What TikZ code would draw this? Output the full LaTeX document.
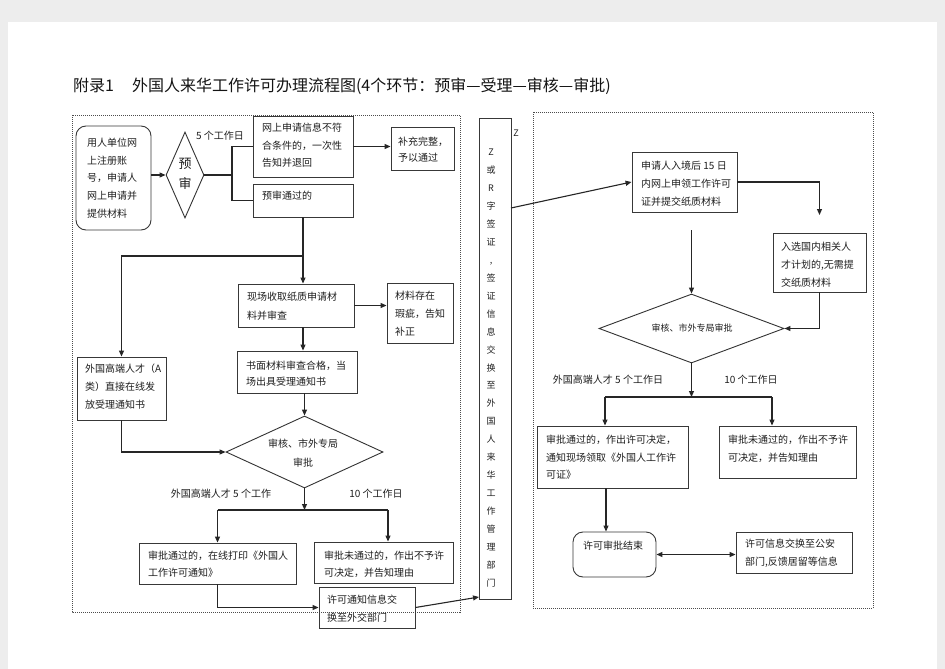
\documentclass[tikz,border=0pt]{standalone}
\usepackage{fontspec}
\setmainfont{Noto Sans CJK SC}
\usetikzlibrary{shapes.geometric,arrows.meta,fit}
\tikzset{
  boxst/.style={draw=black!78, line width=0.9pt, inner sep=0pt},
  rbox/.style={boxst, rounded corners=10pt},
  dia/.style={draw=black!80, line width=0.9pt, diamond, inner sep=0pt},
  txt/.style={font=\fontsize{10}{17.6}\selectfont, align=left, inner sep=0pt, text=black!88},
  lbl/.style={font=\fontsize{10}{12}\selectfont, inner sep=0pt, text=black!88},
  ln/.style={line width=1.1pt, draw=black!85},
  arr/.style={ln, -{Triangle[length=6pt,width=5pt]}},
  darr/.style={ln, {Triangle[length=6pt,width=5pt]}-{Triangle[length=6pt,width=5pt]}},
  frame/.style={draw=black!70, line width=0.7pt, dash pattern=on 1pt off 1pt},
}
\newcommand\btxt[5][17.6]{\node[txt, font=\fontsize{10}{#1}\selectfont, anchor=north west] (#2) at (#3,#4-5) {#5};}
\begin{document}
\begin{tikzpicture}[x=1pt,y=-1pt]
\fill[black!7] (0,0) rectangle (945,669);
\fill[white] (8,22) rectangle (937,669);
\useasboundingbox (0,0) rectangle (945,669);

% title
\node[inner sep=0pt, anchor=west, font=\fontsize{16}{18}\selectfont, text=black!92] (title) at (73,86) {附录1\hspace{18pt}外国人来华工作许可办理流程图(4个环节：预审—受理—审核—审批)};

% dashed frames
\draw[frame] (72,115) rectangle (460,612);
\draw[frame] (533,112) rectangle (873,608);

% ---------- left part ----------
\node[rbox, fit={(76,126)(151,230)}] (A) {};
\btxt{At}{87}{143}{用人单位网\\上注册账\\号，申请人\\网上申请并\\提供材料}

\node[dia, minimum width=38pt, minimum height=86pt] (d1) at (185,175) {};
\node[txt, font=\fontsize{13}{20}\selectfont, align=center] (d1t) at (185,173.5) {预\\审};
\node[lbl] (l5a) at (220,136) {5 个工作日};

\node[boxst, fit={(253,116)(353,177)}] (B) {};
\btxt[17.5]{Bt}{262}{128}{网上申请信息不符\\合条件的，一次性\\告知并退回}
\node[boxst, fit={(391,127)(454,170)}] (D) {};
\btxt[16]{Dt}{398}{142}{补充完整，\\予以通过}
\node[boxst, fit={(253,184)(353,217)}] (C) {};
\btxt{Ct}{262}{196}{预审通过的}

\node[boxst, fit={(238,284)(354,327)}] (E) {};
\btxt[19]{Et}{247}{297}{现场收取纸质申请材\\料并审查}
\node[boxst, fit={(387,283)(453,343)}] (G) {};
\btxt[18]{Gt}{395}{296}{材料存在\\瑕疵，告知\\补正}
\node[boxst, fit={(237,351)(357,393)}] (H) {};
\btxt[16]{Ht}{246}{366}{书面材料审查合格，当\\场出具受理通知书}
\node[boxst, fit={(77,357)(166,420)}] (F) {};
\btxt[18]{Ft}{85}{369}{外国高端人才（A\\类）直接在线发\\放受理通知书}

\node[dia, minimum width=157pt, minimum height=72pt] (d2) at (304.5,452) {};
\node[txt, font=\fontsize{10}{19}\selectfont, align=center] (d2t) at (303,453) {审核、市外专局\\审批};
\node[lbl] (l5b) at (221,494) {外国高端人才 5 个工作};
\node[lbl] (l10a) at (376,494) {10 个工作日};

\node[boxst, fit={(139,543)(296,584)}] (I) {};
\btxt[17]{It}{148}{556}{审批通过的，在线打印《外国人\\工作许可通知》}
\node[boxst, fit={(314,542)(453,583)}] (J) {};
\btxt[17]{Jt}{324}{556}{审批未通过的，作出不予许\\可决定，并告知理由}
\node[boxst, fit={(319,587)(415,628)}] (K) {};
\btxt[18]{Kt}{327}{600}{许可通知信息交\\换至外交部门}

% ---------- middle ----------
\node[boxst, fit={(479,118)(511,599)}] (Z) {};
\node[txt, font=\fontsize{9}{17.96}\selectfont, align=center, anchor=north] (Zt) at (491,148.7) {Z\\或\\R\\字\\签\\证\\,\\签\\证\\信\\息\\交\\换\\至\\外\\国\\人\\来\\华\\工\\作\\管\\理\\部\\门};
\node[lbl, font=\fontsize{9}{10}\selectfont] (Zl) at (516,133) {Z};

% ---------- right part ----------
\node[boxst, fit={(632,152)(737,212)}] (L) {};
\btxt[18]{Lt}{641}{166}{申请人入境后 15 日\\内网上申领工作许可\\证并提交纸质材料}
\node[boxst, fit={(773,233)(866,292)}] (M) {};
\btxt[18]{Mt}{781}{247}{入选国内相关人\\才计划的,无需提\\交纸质材料}

\node[dia, minimum width=185pt, minimum height=69pt] (d3) at (691.5,328.5) {};
\node[txt, font=\fontsize{9}{11}\selectfont] (d3t) at (692,328.5) {审核、市外专局审批};
\node[lbl] (l5c) at (608,380) {外国高端人才 5 个工作日};
\node[lbl] (l10b) at (751,380) {10 个工作日};

\node[boxst, fit={(537,426)(688,488)}] (N) {};
\btxt[17.5]{Nt}{546}{440}{审批通过的，作出许可决定，\\通知现场领取《外国人工作许\\可证》}
\node[boxst, fit={(719,426)(856,478)}] (O) {};
\btxt[18]{Ot}{728}{440}{审批未通过的，作出不予许\\可决定，并告知理由}
\node[rbox, fit={(573,532)(656,577)}] (P) {};
\btxt{Pt}{583}{546}{许可审批结束}
\node[boxst, fit={(736,532)(852,573)}] (Q) {};
\btxt[18]{Qt}{745}{544}{许可信息交换至公安\\部门,反馈居留等信息}

% ---------- connectors ----------
\draw[arr] (A.east |- d1.west) -- (d1.west);
\coordinate (j1) at (232,175);
\draw[ln] (d1.east) -- (j1);
\draw[ln] (j1) |- (B.west);
\draw[ln] (j1) |- (C.west);
\draw[arr] (B.east) -- (B.east -| D.west);
\coordinate (b1) at (303,256);
\draw[arr] (C.south) -- (C.south |- E.north);
\draw[arr] (b1) -| (F.north);
\draw[arr] (E.east) -- (E.east -| G.west);
\draw[arr] (C.south |- E.south) -- (C.south |- H.north);
\draw[arr] (d2.north |- H.south) -- (d2.north);
\draw[arr] (F.south) |- (d2.west);
\coordinate (s2) at (304.5,510);
\coordinate (s2l) at (217.5,510);
\coordinate (s2r) at (388,510);
\draw[arr] (d2.south) -- (s2);
\draw[ln] (s2l) -- (s2r);
\draw[arr] (s2l) -- (I.north);
\draw[arr] (s2r) -- (s2r |- J.north);
\draw[arr] (I.south) |- (K.west);
\coordinate (zin) at (479,597);
\draw[arr] (K.east) -- (zin);
\coordinate (zout) at (511,208);
\draw[arr] (zout) -- (L.west);
\coordinate (m1) at (819.5,215);
\draw[arr] (L.east) -| (m1);
\coordinate (l1) at (691.5,230);
\draw[arr] (l1) -- (d3.north);
\draw[arr] (M.south) |- (d3.east);
\coordinate (s3) at (691.5,397);
\coordinate (s3l) at (605,397);
\coordinate (s3r) at (772,397);
\draw[arr] (d3.south) -- (s3);
\draw[ln] (s3l) -- (s3r);
\draw[arr] (s3l) -- (s3l |- N.north);
\draw[arr] (s3r) -- (s3r |- O.north);
\coordinate (t1) at (606,488);
\draw[arr] (t1) -- (t1 |- P.north);
\draw[darr] (P.east) -- (P.east -| Q.west);
\end{tikzpicture}
\end{document}
